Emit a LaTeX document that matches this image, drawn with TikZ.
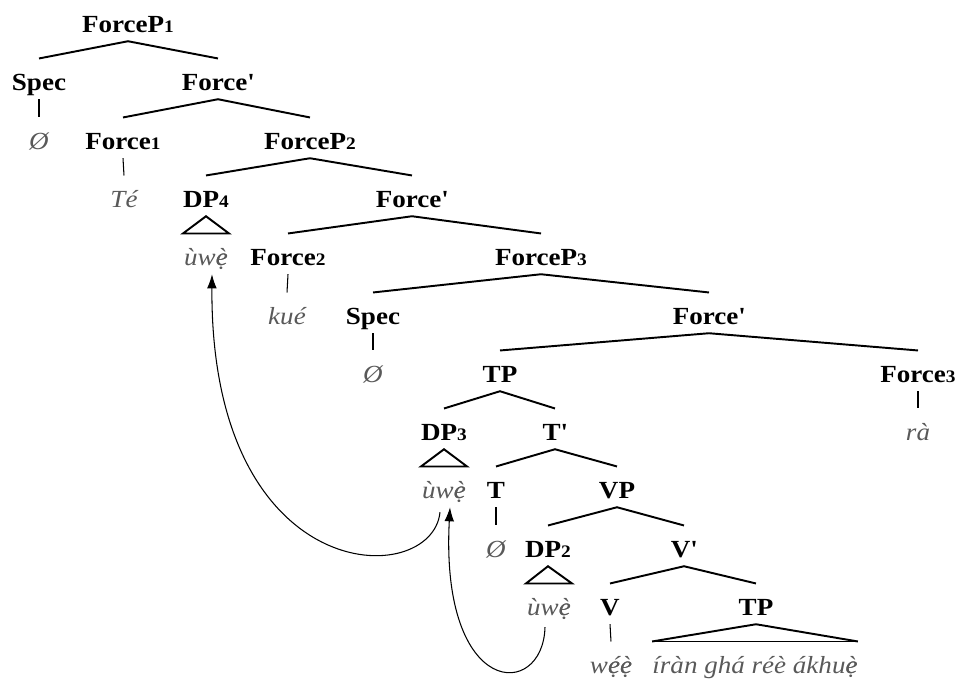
\documentclass[tikz,border=0pt]{standalone}
\usepackage{fontspec}
\setmainfont{Liberation Serif}[FakeStretch=1.1]
\usetikzlibrary{arrows.meta}

\newcommand{\idx}[1]{{\fontsize{10}{10}\selectfont #1}}
\newcommand{\pr}{\textquotesingle}
% e with dot below plus tone mark, by overlaying two glyphs
\newcommand{\elow}{\ooalign{è\cr ẹ\cr}}
\newcommand{\ehigh}{\ooalign{é\cr ẹ\cr}}

\tikzset{
  cat/.style={anchor=base, font=\fontsize{14}{16}\selectfont\bfseries,
    text height=15.75pt, text depth=3.05pt, inner xsep=0pt, inner ysep=2pt},
  word/.style={cat, font=\fontsize{14}{16}\selectfont\itshape, text=black!65},
  branch/.style={line width=1.1pt},
  leaf/.style={line width=0.6pt},
  roof/.style={line width=1.1pt, line join=miter},
  move/.style={line width=0.6pt, -{Latex[length=8pt,width=5.5pt]}}
}

\begin{document}
\begin{tikzpicture}[x=0.02cm, y=-0.02cm]
    \useasboundingbox (0,0) rectangle (961,681);

    % Category labels (baseline = row + 8)
    \node[cat] (fp1) at (128,32) {ForceP\idx{1}};
    \node[cat] (spec1) at (39,90) {Spec};
    \node[cat] (fbar1) at (218,90) {Force\pr};
    \node[cat] (force1) at (123,149) {Force\idx{1}};
    \node[cat] (fp2) at (310,149) {ForceP\idx{2}};
    \node[cat] (dp4) at (206,207) {DP\idx{4}};
    \node[cat] (fbar2) at (412,207) {Force\pr};
    \node[cat] (force2) at (288,265) {Force\idx{2}};
    \node[cat] (fp3) at (541,265) {ForceP\idx{3}};
    \node[cat] (spec2) at (373,324) {Spec};
    \node[cat] (fbar3) at (709,324) {Force\pr};
    \node[cat] (tp1) at (500,382) {TP};
    \node[cat] (force3) at (918,382) {Force\idx{3}};
    \node[cat] (dp3) at (444,440) {DP\idx{3}};
    \node[cat] (tbar) at (555,440) {T\pr};
    \node[cat] (t) at (496,498) {T};
    \node[cat] (vp) at (617,498) {VP};
    \node[cat] (dp2) at (548,557) {DP\idx{2}};
    \node[cat] (vbar) at (684,557) {V\pr};
    \node[cat] (v) at (610,615) {V};
    \node[cat] (tp2) at (756,615) {TP};

    % Words
    \node[word] (null1) at (39,149) {Ø};
    \node[word] (te) at (124,207) {Té};
    \node[word] (w4) at (206,265) {ùw\elow};
    \node[word] (kue) at (287,324) {kué};
    \node[word] (null2) at (373,382) {Ø};
    \node[word] (ra) at (918,440) {rà};
    \node[word] (w3) at (444,498) {ùw\elow};
    \node[word] (null3) at (496,557) {Ø};
    \node[word] (w2) at (549,615) {ùw\elow};
    \node[word] (wee) at (611,673) {w\ehigh\elow};
    \node[word] (phrase) at (755,673) {íràn ghá réè ákhu\elow};

    % Branches
    \draw[branch] (spec1.north) -- (fp1.south) -- (fbar1.north);
    \draw[branch] (force1.north) -- (fbar1.south) -- (fp2.north);
    \draw[branch] (dp4.north) -- (fp2.south) -- (fbar2.north);
    \draw[branch] (force2.north) -- (fbar2.south) -- (fp3.north);
    \draw[branch] (spec2.north) -- (fp3.south) -- (fbar3.north);
    \draw[branch] (tp1.north) -- (fbar3.south) -- (force3.north);
    \draw[branch] (dp3.north) -- (tp1.south) -- (tbar.north);
    \draw[branch] (t.north) -- (tbar.south) -- (vp.north);
    \draw[branch] (dp2.north) -- (vp.south) -- (vbar.north);
    \draw[branch] (v.north) -- (vbar.south) -- (tp2.north);

    % Unary lines
    \draw[leaf] (spec1.south) -- (null1.north);
    \draw[leaf] (force1.south) -- (te.north);
    \draw[leaf] (force2.south) -- (kue.north);
    \draw[leaf] (spec2.south) -- (null2.north);
    \draw[leaf] (force3.south) -- (ra.north);
    \draw[leaf] (t.south) -- (null3.north);
    \draw[leaf] (v.south) -- (wee.north);

    % Roofs
    \draw[roof] (dp4.south) -- ([shift={(23,0)}]w4.north) -- ([shift={(-23,0)}]w4.north) -- cycle;
    \draw[roof] (dp3.south) -- ([shift={(23,0)}]w3.north) -- ([shift={(-23,0)}]w3.north) -- cycle;
    \draw[roof] (dp2.south) -- ([shift={(23,0)}]w2.north) -- ([shift={(-23,0)}]w2.north) -- cycle;
    \draw[roof] (phrase.north west) -- (tp2.south) -- (phrase.north east);
    \draw[leaf] (phrase.north west) -- (phrase.north east);

    % Movement arrows
    \draw[move] ([shift={(-4,5)}]w3.south) .. controls +(-8,78) and +(-2,315) .. ([shift={(6,0)}]w4.south);
    \draw[move] ([shift={(-4,3)}]w2.south) .. controls +(-2,73) and +(-10,192) .. ([shift={(6,0)}]w3.south);
\end{tikzpicture}
\end{document}
